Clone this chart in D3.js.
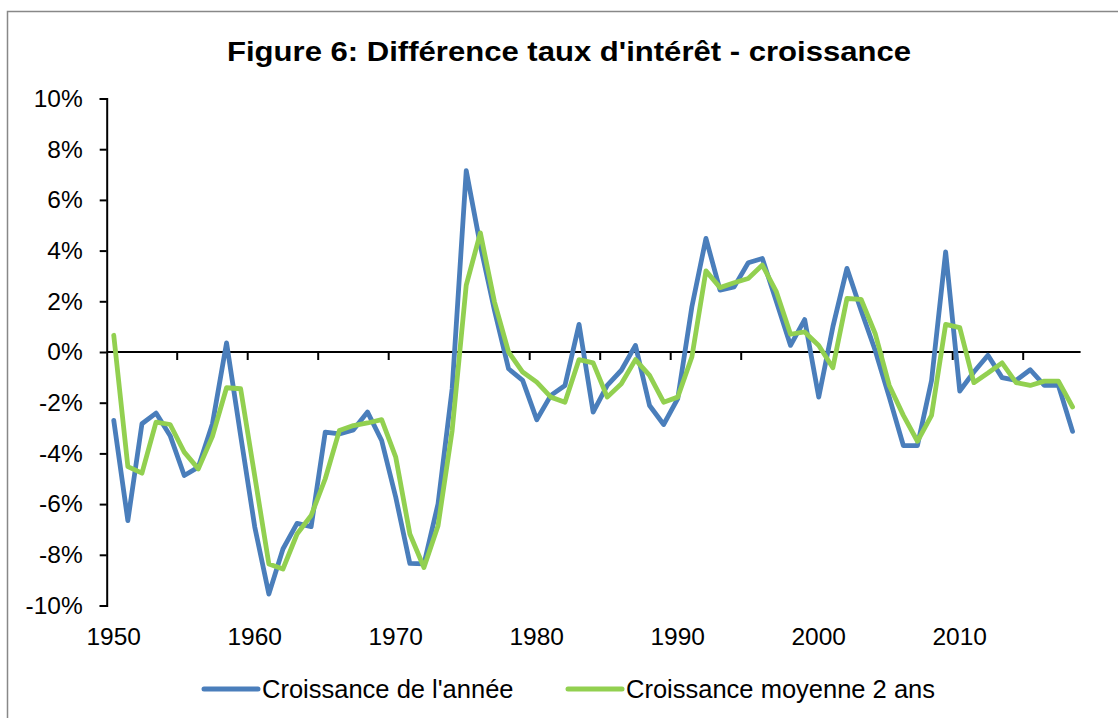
<!DOCTYPE html>
<html lang="fr">
<head>
<meta charset="utf-8">
<title>Figure 6</title>
<script src="https://d3js.org/d3.v7.min.js"></script>
<style>
  body { margin: 0; background: #fff; }
  text { font-family: Arial, "Liberation Sans", sans-serif; fill: #000; }
</style>
</head>
<body>
<script>
// donnees (en %)
var annees = d3.range(1950, 2019);
var croissanceAnnee = [
  -2.7, -6.65, -2.83, -2.41, -3.3, -4.87, -4.54, -2.83, 0.36, -3.3,
  -6.9, -9.55, -7.77, -6.76, -6.89, -3.16, -3.23, -3.07, -2.37, -3.49,
  -5.73, -8.34, -8.36, -5.99, -1.45, 7.15, 4.2, 1.65, -0.66, -1.12,
  -2.67, -1.71, -1.32, 1.09, -2.37, -1.32, -0.72, 0.26, -2.11, -2.86,
  -1.84, 1.78, 4.48, 2.44, 2.57, 3.52, 3.69, 1.98, 0.26, 1.28,
  -1.78, 0.99, 3.3, 1.65, 0.07, -1.78, -3.69, -3.69, -1.12, 3.95,
  -1.54, -0.79, -0.13, -1.01, -1.12, -0.70, -1.32, -1.32, -3.13
];
var croissanceMoyenne = [
  0.66, -4.52, -4.78, -2.77, -2.86, -3.95, -4.61, -3.33, -1.41, -1.45,
  -4.9, -8.36, -8.56, -7.18, -6.45, -5.0, -3.1, -2.9, -2.8, -2.67,
  -4.15, -7.18, -8.5, -6.85, -3.1, 2.64, 4.7, 1.98, 0.0, -0.79,
  -1.19, -1.78, -1.98, -0.3, -0.43, -1.78, -1.25, -0.3, -0.92, -1.98,
  -1.78, -0.2, 3.2, 2.54, 2.73, 2.9, 3.43, 2.37, 0.7, 0.79,
  0.26, -0.62, 2.11, 2.08, 0.73, -1.32, -2.5, -3.52, -2.5, 1.09,
  0.96, -1.21, -0.83, -0.43, -1.21, -1.32, -1.15, -1.15, -2.17
];
var yTicks = [-10, -8, -6, -4, -2, 0, 2, 4, 6, 8, 10];
var xLabels = [1950, 1960, 1970, 1980, 1990, 2000, 2010];
var series = [
  { nom: "Croissance de l'année", valeurs: croissanceAnnee, couleur: "#4a7ebb" },
  { nom: "Croissance moyenne 2 ans", valeurs: croissanceMoyenne, couleur: "#92d050" }
];

var W = 1118, H = 718;
var svg = d3.select("body").append("svg")
  .attr("width", W)
  .attr("height", H);

// cadre
svg.append("rect")
  .attr("x", 7.5).attr("y", 11.5)
  .attr("width", W).attr("height", H)
  .attr("fill", "none")
  .attr("stroke", "#888")
  .attr("stroke-width", 1.5);

// titre
svg.append("text")
  .attr("x", 569).attr("y", 61)
  .attr("text-anchor", "middle")
  .attr("font-size", 27)
  .attr("font-weight", "bold")
  .attr("textLength", 684)
  .attr("lengthAdjust", "spacingAndGlyphs")
  .text("Figure 6: Différence taux d'intérêt - croissance");

var x = d3.scaleBand().domain(annees).range([106.7, 1079.6]).padding(0);
var y = d3.scaleLinear().domain([-10, 10]).range([605.5, 98.5]);
var cx = function(a) { return x(a) + x.bandwidth() / 2; };

// axe vertical
var yAxis = svg.append("g")
  .attr("transform", "translate(" + x.range()[0] + ",0)")
  .call(d3.axisLeft(y).tickValues(yTicks).tickSize(7).tickPadding(17)
    .tickFormat(function(d) { return d + "%"; }));
yAxis.select(".domain").attr("stroke", "#000").attr("stroke-width", 2);
yAxis.selectAll(".tick line").attr("stroke", "#000").attr("stroke-width", 2);
yAxis.selectAll("text").attr("font-size", 24.5).attr("font-family", "Arial, 'Liberation Sans', sans-serif");

// axe horizontal (ligne zéro)
var tickAnnees = annees.filter(function(a) { return (a - 1950) % 5 === 0; });
svg.append("line")
  .attr("x1", x.range()[0]).attr("x2", x.range()[1] + 1)
  .attr("y1", y(0)).attr("y2", y(0))
  .attr("stroke", "#000").attr("stroke-width", 2);
svg.selectAll(".xtick").data(tickAnnees.slice(1)).enter().append("line")
  .attr("class", "xtick")
  .attr("x1", x).attr("x2", x)
  .attr("y1", y(0)).attr("y2", y(0) + 8)
  .attr("stroke", "#000").attr("stroke-width", 2);

svg.selectAll(".xlab").data(xLabels).enter().append("text")
  .attr("class", "xlab")
  .attr("x", cx)
  .attr("y", 645)
  .attr("text-anchor", "middle")
  .attr("font-size", 24.5)
  .text(function(d) { return d; });

// courbes
var ligne = function(vals) {
  return d3.line()
    .x(function(d, i) { return cx(annees[i]); })
    .y(function(d) { return y(d); })(vals);
};
svg.selectAll(".serie").data(series).enter().append("path")
  .attr("class", "serie")
  .attr("d", function(s) { return ligne(s.valeurs); })
  .attr("fill", "none")
  .attr("stroke", function(s) { return s.couleur; })
  .attr("stroke-width", 4.8)
  .attr("stroke-linejoin", "round")
  .attr("stroke-linecap", "round");

// légende
var legX = [204, 568];
var leg = svg.selectAll(".leg").data(series).enter().append("g")
  .attr("class", "leg")
  .attr("transform", function(s, i) { return "translate(" + legX[i] + ",689)"; });
leg.append("line")
  .attr("x1", 0).attr("x2", 54)
  .attr("stroke", function(s) { return s.couleur; })
  .attr("stroke-width", 5)
  .attr("stroke-linecap", "round");
leg.append("text")
  .attr("x", 58).attr("y", 9)
  .attr("font-size", 25.5)
  .text(function(s) { return s.nom; });
</script>
</body>
</html>
